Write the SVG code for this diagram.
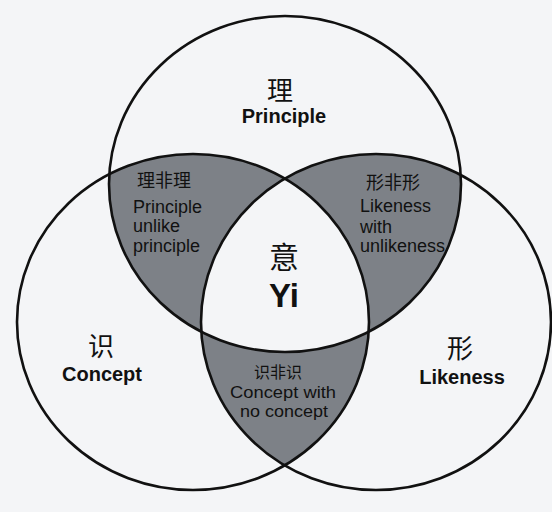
<svg xmlns="http://www.w3.org/2000/svg" width="552" height="512" viewBox="0 0 552 512">
  <style>
    .bg { fill: #f4f5f7; }
    .ring { fill: none; stroke: #111; stroke-width: 2.6; }
    .lens { fill: #7d8187; }
    .hz { font-family: "Noto Sans CJK SC", "Noto Sans", sans-serif; fill: #111; }
    .en { font-family: "Liberation Sans", Arial, sans-serif; fill: #111; }
    .b { font-weight: bold; }
  </style>
  <defs>
    <clipPath id="clipT"><ellipse cx="285" cy="184" rx="176" ry="168"/></clipPath>
    <clipPath id="clipL"><ellipse cx="193" cy="322" rx="176" ry="168"/></clipPath>
    <clipPath id="clipR"><ellipse cx="376" cy="322" rx="175" ry="168"/></clipPath>
  </defs>
  <rect class="bg" x="0" y="0" width="552" height="512"/>

  <g id="regions">
    <g clip-path="url(#clipT)">
      <ellipse class="lens" cx="193" cy="322" rx="176" ry="168"/>
      <ellipse class="lens" cx="376" cy="322" rx="175" ry="168"/>
    </g>
    <g clip-path="url(#clipL)">
      <ellipse class="lens" cx="376" cy="322" rx="175" ry="168"/>
    </g>
    <g clip-path="url(#clipL)">
      <g clip-path="url(#clipR)">
        <ellipse class="bg" cx="285" cy="184" rx="176" ry="168"/>
      </g>
    </g>
  </g>

  <g id="circles">
    <ellipse id="circle-principle" class="ring" cx="285" cy="184" rx="176" ry="168"/>
    <ellipse id="circle-concept" class="ring" cx="193" cy="322" rx="176" ry="168"/>
    <ellipse id="circle-likeness" class="ring" cx="376" cy="322" rx="175" ry="168"/>
  </g>

  <g id="connectors"></g>

  <g id="node-principle">
    <text class="hz" x="280" y="100" font-size="26" text-anchor="middle">理</text>
    <text class="en b" x="284" y="123" font-size="20" text-anchor="middle">Principle</text>
  </g>
  <g id="node-principle-unlike">
    <text class="hz" x="137" y="187" font-size="18">理非理</text>
    <text class="en" x="133" y="213" font-size="18">Principle</text>
    <text class="en" x="133" y="232" font-size="18">unlike</text>
    <text class="en" x="133" y="252" font-size="18">principle</text>
  </g>
  <g id="node-likeness-unlike">
    <text class="hz" x="366" y="189" font-size="18">形非形</text>
    <text class="en" x="360" y="212" font-size="18">Likeness</text>
    <text class="en" x="360" y="233" font-size="18">with</text>
    <text class="en" x="360" y="252" font-size="18">unlikeness</text>
  </g>
  <g id="node-yi">
    <text class="hz" x="284" y="268" font-size="30" text-anchor="middle">意</text>
    <text class="en b" x="284" y="307" font-size="33" text-anchor="middle">Yi</text>
  </g>
  <g id="node-concept">
    <text class="hz" x="101" y="356" font-size="26" text-anchor="middle">识</text>
    <text class="en b" x="102" y="381" font-size="20" text-anchor="middle">Concept</text>
  </g>
  <g id="node-likeness">
    <text class="hz" x="460" y="358" font-size="26" text-anchor="middle">形</text>
    <text class="en b" x="462" y="384" font-size="20" text-anchor="middle">Likeness</text>
  </g>
  <g id="node-concept-unlike">
    <text class="hz" x="278" y="378" font-size="16" text-anchor="middle">识非识</text>
    <text class="en" x="283" y="398" font-size="17" text-anchor="middle" textLength="106" lengthAdjust="spacingAndGlyphs">Concept with</text>
    <text class="en" x="284" y="417" font-size="17" text-anchor="middle" textLength="88" lengthAdjust="spacingAndGlyphs">no concept</text>
  </g>
</svg>
